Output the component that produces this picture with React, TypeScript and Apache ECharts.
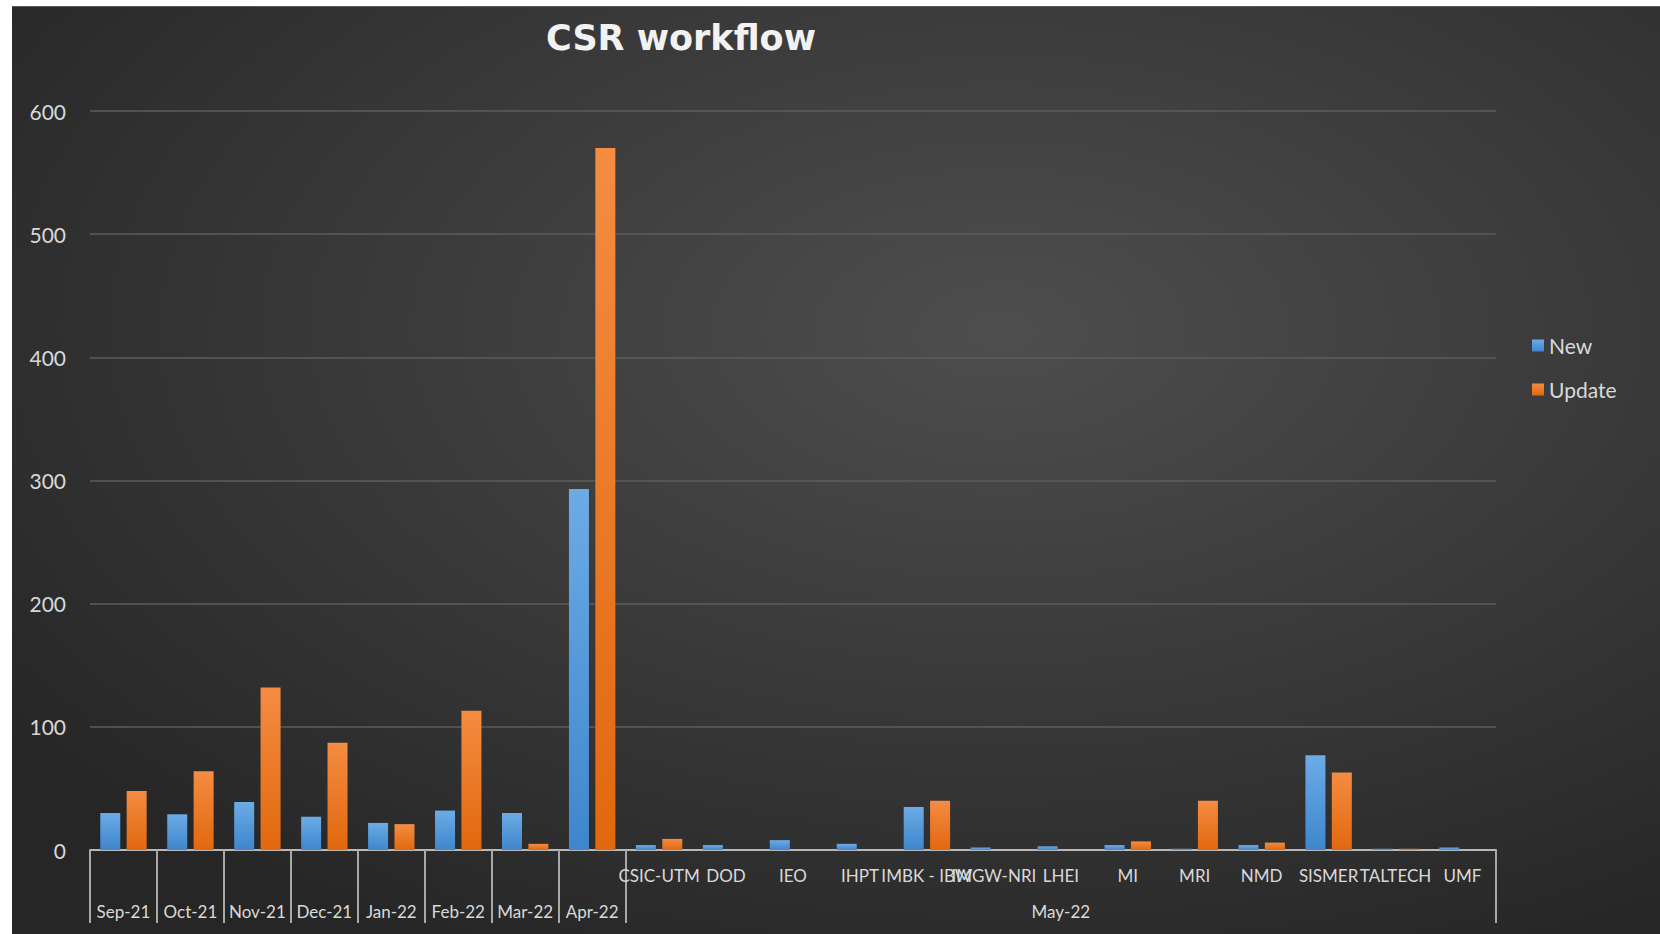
import React, { useEffect, useRef } from "react";
import * as echarts from "echarts";

const months = ["Sep-21", "Oct-21", "Nov-21", "Dec-21", "Jan-22", "Feb-22", "Mar-22", "Apr-22"];
const monthNew = [30, 29, 39, 27, 22, 32, 30, 293];
const monthUpdate = [48, 64, 132, 87, 21, 113, 5, 570];

const mayLabel = "May-22";
const maySites = ["CSIC-UTM", "DOD", "IEO", "IHPT", "IMBK - IBW", "IMGW-NRI", "LHEI", "MI", "MRI", "NMD", "SISMER", "TALTECH", "UMF"];
const mayNew = [4, 4, 8, 5, 35, 2, 3, 4, 1, 4, 77, 1, 2];
const mayUpdate = [9, 0, 0, 0, 40, 0, 0, 7, 40, 6, 63, 1, 0];

const yTicks = [0, 100, 200, 300, 400, 500, 600];

const TEXT = "#d9d9d9";
const FONT = "Lato";

export default function App() {
  const ref = useRef<HTMLDivElement>(null);
  useEffect(() => {
    document.body.style.margin = "0";
    const chart = echarts.init(ref.current!, null, { renderer: "svg" });
    const cats = [...months, ...maySites];
    const newVals = [...monthNew, ...mayNew];
    const updVals = [...monthUpdate, ...mayUpdate];
    const mayCenter = months.length + Math.floor(maySites.length / 2);
    const grad = (top: string, bottom: string) =>
      new echarts.graphic.LinearGradient(0, 0, 0, 1, [
        { offset: 0, color: top },
        { offset: 1, color: bottom },
      ]);
    chart.setOption({
      animation: false,
      backgroundColor: "#ffffff",
      graphic: [
        {
          type: "rect",
          z: -10,
          silent: true,
          shape: { x: 12, y: 6, width: 1648, height: 928 },
          style: {
            fill: new echarts.graphic.RadialGradient(0.6, 0.35, 0.75, [
              { offset: 0, color: "#4e4e4e" },
              { offset: 1, color: "#262626" },
            ]),
          },
        },
        {
          type: "line",
          z: -9,
          silent: true,
          shape: { x1: 12, y1: 6.5, x2: 1660, y2: 6.5 },
          style: { stroke: "#5a5a5a", lineWidth: 1 },
        },
        {
          type: "text",
          x: 681,
          y: 38,
          style: {
            text: "CSR workflow",
            fill: "#f2f2f2",
            font: 'bold 35px "DejaVu Sans"',
            align: "center",
            verticalAlign: "middle",
            textAlign: "center",
            textVerticalAlign: "middle",
            shadowColor: "rgba(0,0,0,0.7)",
            shadowBlur: 4,
            shadowOffsetY: 2,
          },
        },
      ],
      legend: {
        orient: "vertical",
        left: 1527,
        top: 330,
        itemWidth: 12,
        itemHeight: 12,
        itemGap: 23,
        icon: "rect",
        textStyle: { color: TEXT, fontFamily: FONT, fontSize: 21 },
        data: ["New", "Update"],
      },
      grid: { left: 90, right: 164, top: 111, bottom: 84, containLabel: false },
      xAxis: [
        {
          type: "category",
          data: cats,
          position: "bottom",
          axisLine: { show: true, lineStyle: { color: "#b8b8b8", width: 2 } },
          axisTick: { show: false },
          axisLabel: {
            interval: 0,
            margin: 17,
            color: TEXT,
            fontFamily: FONT,
            fontSize: 17,
            formatter: (v: string, i: number) => (i < months.length ? "" : v),
          },
        },
        {
          type: "category",
          data: cats,
          position: "bottom",
          axisLine: { show: false },
          axisTick: {
            show: true,
            length: 73,
            interval: (i: number) => i <= months.length,
            lineStyle: { color: "#a8a8a8", width: 2 },
          },
          axisLabel: {
            interval: 0,
            margin: 53,
            color: TEXT,
            fontFamily: FONT,
            fontSize: 17,
            formatter: (_v: string, i: number) =>
              i < months.length ? months[i] : i === mayCenter ? mayLabel : "",
          },
        },
      ],
      yAxis: {
        type: "value",
        min: yTicks[0],
        max: yTicks[yTicks.length - 1],
        interval: 100,
        axisLine: { show: false },
        axisTick: { show: false },
        axisLabel: { color: TEXT, fontFamily: FONT, fontSize: 21, margin: 24 },
        splitLine: { lineStyle: { color: "#5c5c5c", width: 1.5 } },
      },
      series: [
        {
          name: "New",
          type: "bar",
          xAxisIndex: 0,
          data: newVals,
          barWidth: 20,
          barGap: "32%",
          itemStyle: { color: grad("#6cabe6", "#3e86cd") },
        },
        {
          name: "Update",
          type: "bar",
          xAxisIndex: 0,
          data: updVals,
          barWidth: 20,
          itemStyle: { color: grad("#f48c42", "#e2680e") },
        },
      ],
    });
    return () => chart.dispose();
  }, []);
  return <div ref={ref} style={{ width: 1660, height: 934 }} />;
}
